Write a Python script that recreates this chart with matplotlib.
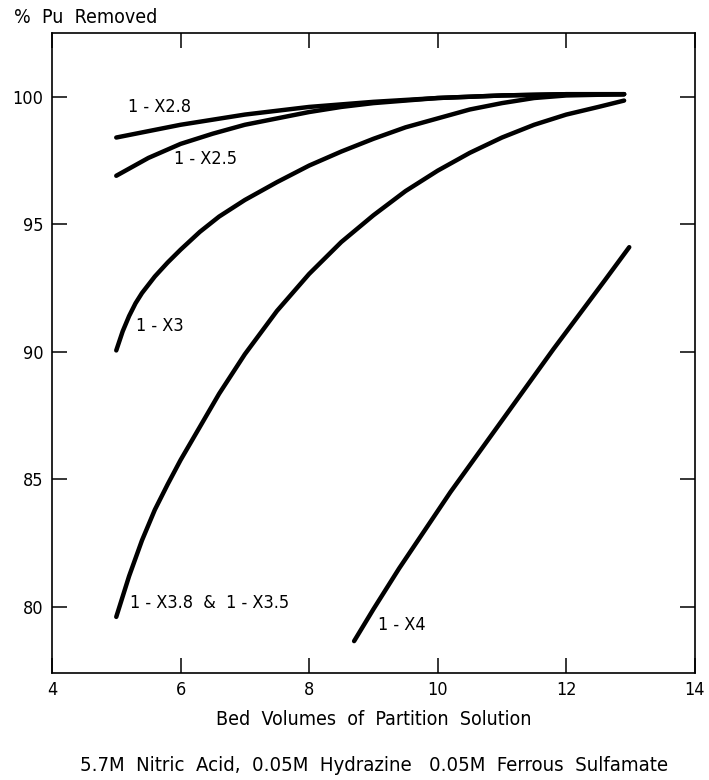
import matplotlib
matplotlib.use("Agg")
import matplotlib.pyplot as plt

# curves (bed volumes, % Pu removed)
x_28 = [5, 5.5, 6, 6.5, 7, 7.5, 8, 9, 10, 11, 12, 12.9]
y_28 = [98.4, 98.65, 98.9, 99.1, 99.3, 99.45, 99.6, 99.8, 99.95, 100.05, 100.1, 100.1]

x_25 = [5, 5.5, 6, 6.5, 7, 7.5, 8, 8.5, 9, 10, 11, 12, 12.9]
y_25 = [96.9, 97.6, 98.15, 98.55, 98.9, 99.15, 99.4, 99.6, 99.75, 99.95, 100.05, 100.1, 100.1]

x_3 = [5, 5.1, 5.2, 5.3, 5.4, 5.6, 5.8, 6, 6.3, 6.6, 7, 7.5, 8, 8.5, 9, 9.5, 10, 10.5,
       11, 11.5, 12, 12.9]
y_3 = [90.05, 90.8, 91.4, 91.9, 92.3, 92.95, 93.5, 94.0, 94.7, 95.3, 95.95, 96.65, 97.3,
       97.85, 98.35, 98.8, 99.15, 99.5, 99.75, 99.95, 100.05, 100.1]

x_38 = [5, 5.2, 5.4, 5.6, 5.8, 6, 6.3, 6.6, 7, 7.5, 8, 8.5, 9, 9.5, 10, 10.5, 11, 11.5,
        12, 12.5, 12.9]
y_38 = [79.6, 81.2, 82.6, 83.8, 84.8, 85.75, 87.05, 88.35, 89.9, 91.6, 93.05, 94.3, 95.35,
        96.3, 97.1, 97.8, 98.4, 98.9, 99.3, 99.6, 99.85]

x_4 = [8.7, 9.0, 9.4, 9.8, 10.2, 10.6, 11.0, 11.4, 11.8, 12.2, 12.6, 12.98]
y_4 = [78.65, 79.9, 81.5, 83.0, 84.5, 85.9, 87.3, 88.7, 90.1, 91.45, 92.8, 94.1]

x_ticks = [4, 6, 8, 10, 12, 14]
y_ticks = [80, 85, 90, 95, 100]

plt.rcParams['font.family'] = ['DejaVu Sans']
plt.rcParams['font.stretch'] = 'condensed'
plt.rcParams['font.size'] = 13

fig = plt.figure(figsize=(7.09, 7.80), dpi=100)
ax = fig.add_axes([0.0733, 0.1372, 0.9067, 0.8205])

for xs, ys in [(x_28, y_28), (x_25, y_25), (x_3, y_3), (x_38, y_38), (x_4, y_4)]:
    ax.plot(xs, ys, color='black', lw=3.2, solid_capstyle='round', solid_joinstyle='round')

ax.set_xlim(4, 14)
ax.set_ylim(77.4, 102.5)
ax.set_xticks(x_ticks)
ax.set_yticks(y_ticks)
ax.tick_params(direction='in', length=11, width=1.1, top=True, right=True,
               labelsize=13, pad=6)
for s in ax.spines.values():
    s.set_linewidth(1.2)

ax.text(5.18, 99.6, '1 - X2.8', fontsize=13, va='center')
ax.text(5.9, 97.55, '1 - X2.5', fontsize=13, va='center')
ax.text(5.3, 91.0, '1 - X3', fontsize=13, va='center')
ax.text(5.22, 80.15, '1 - X3.8  &  1 - X3.5', fontsize=13, va='center')
ax.text(9.07, 79.3, '1 - X4', fontsize=13, va='center')

ax.set_xlabel('Bed  Volumes  of  Partition  Solution', fontsize=14, labelpad=8)
fig.text(0.02, 0.978, '%  Pu  Removed', fontsize=14, va='center', ha='left')
fig.text(0.527, 0.019, '5.7M  Nitric  Acid,  0.05M  Hydrazine   0.05M  Ferrous  Sulfamate',
         fontsize=14.6, va='center', ha='center')

fig.savefig('out.png', dpi=100)
